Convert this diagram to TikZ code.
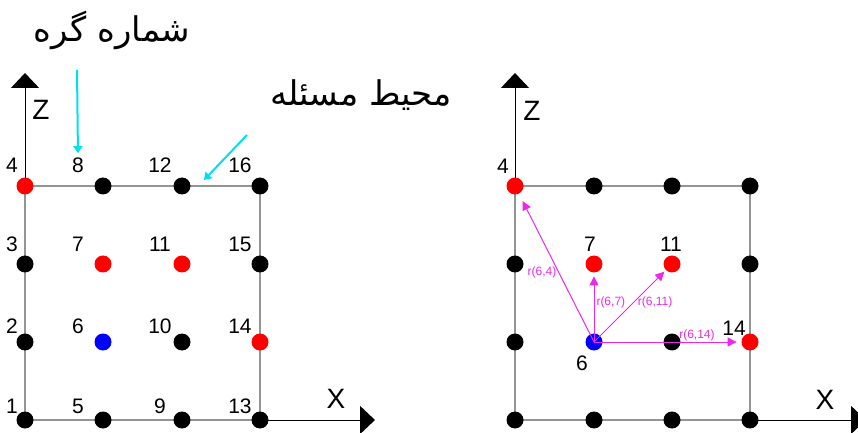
\documentclass[tikz,border=0pt]{standalone}
\usepackage{fontspec}
\setmainfont{Liberation Sans}
\newfontfamily\persianfont[Script=Arabic]{DejaVu Sans}
\TeXXeTstate=1
\usepackage{tikz}
\usetikzlibrary{arrows.meta,positioning,backgrounds}

\definecolor{vecmag}{RGB}{235,40,235}
\definecolor{pointcyan}{RGB}{0,225,240}
\tikzset{
  c4/.style={fill=red}, c7/.style={fill=red}, c11/.style={fill=red},
  c14/.style={fill=red}, c6/.style={fill=blue},
}

\begin{document}
\begin{tikzpicture}[
  x=0.5pt,y=-0.5pt,
  dot/.style={circle,fill=black,inner sep=0pt,minimum size=8.5pt},
  num/.style={font=\fontsize{10.5}{12}\selectfont,inner sep=0pt},
  axislabel/.style={font=\fontsize{14}{16}\selectfont,inner sep=0pt},
  axis/.style={line width=0.5pt,-{Triangle[width=14pt,length=7.5pt]}},
  frame/.style={draw=black!42,line width=1pt},
  rvec/.style={vecmag,line width=0.5pt,-{Triangle[width=4.5pt,length=4.5pt]}},
  rlabel/.style={vecmag,font=\fontsize{6}{7}\selectfont,inner sep=0pt},
  pointer/.style={pointcyan,line width=1pt,-{Triangle[width=4.5pt,length=3.5pt]}},
  fa/.style={font=\persianfont\fontsize{17}{20}\selectfont,inner sep=0pt},
]
\useasboundingbox (0,0) rectangle (858,433);

% Left grid
\foreach \x/\dx [count=\i from 0] in {25/-13,103/-25,182/-22,260/-20}
  \foreach \y/\dy [count=\j] in {420/-14,342/-16,264/-20,186/-21} {
    \pgfmathtruncatemacro\n{4*\i+\j}
    \node[dot,c\n/.try] (L\n) at (\x,\y) {};
    \node[num] (Ln\n) at ([shift={(\dx,\dy)}]L\n) {\n};
  }
\coordinate (Lz) at (25,73);
\coordinate (Lx) at (375,420);
\begin{scope}[on background layer]
  \draw[axis] (L1.center) -- (Lz);
  \draw[axis] (L1.center) -- (Lx);
  \draw[frame] (L1.center) rectangle (L16.center);
\end{scope}
\node[axislabel] (Lzl) at (41,110) {Z};
\node[axislabel] (Lxl) at (336,399) {X};

% Right grid
\foreach \x [count=\i from 0] in {515,594,672,750}
  \foreach \y [count=\j] in {420,342,264,186} {
    \pgfmathtruncatemacro\n{4*\i+\j}
    \node[dot,c\n/.try] (R\n) at (\x,\y) {};
  }
\coordinate (Rz) at (515,73);
\coordinate (Rx) at (866,420);
\begin{scope}[on background layer]
  \draw[axis] (R1.center) -- (Rz);
  \draw[axis] (R1.center) -- (Rx);
  \draw[frame] (R1.center) rectangle (R16.center);
\end{scope}
\node[axislabel] (Rzl) at (532,111) {Z};
\node[axislabel] (Rxl) at (825,400) {X};

\node[num] (Rn4) at ([shift={(-12,-20)}]R4) {4};
\node[num] (Rn7) at ([shift={(-4,-20)}]R7) {7};
\node[num] (Rn11) at ([shift={(-1,-20)}]R11) {11};
\node[num] (Rn14) at ([shift={(-16,-14)}]R14) {14};
\node[num] (Rn6) at ([shift={(-12,21)}]R6) {6};

% Distances from node 6
\draw[rvec,shorten >=4pt] (R6.center) -- node[rlabel,pos=0.47,left=1pt]{r(6,4)} (R4);
\draw[rvec,shorten >=1.75pt] (R6.center) -- node[rlabel,pos=0.57,right=1pt]{r(6,7)} (R7);
\draw[rvec,shorten >=1pt] (R6.center) -- node[rlabel,pos=0.55,right=2pt]{r(6,11)} (R11);
\draw[rvec,shorten >=2.25pt] (R6.center) -- node[rlabel,pos=0.7,above=0.5pt]{r(6,14)} (R14);

% Persian notes
\node[fa] (nodenum) at (112,30) {\beginR شماره گره\endR};
\node[fa] (domain) at (361,95) {\beginR محیط مسئله\endR};
\coordinate (p1) at (77,70);
\coordinate (p2) at (247,135);
\coordinate (p2e) at (204,180);
\draw[pointer,shorten >=2pt] (p1) -- (Ln8.north);
\draw[pointer] (p2) -- (p2e);

\end{tikzpicture}
\end{document}
